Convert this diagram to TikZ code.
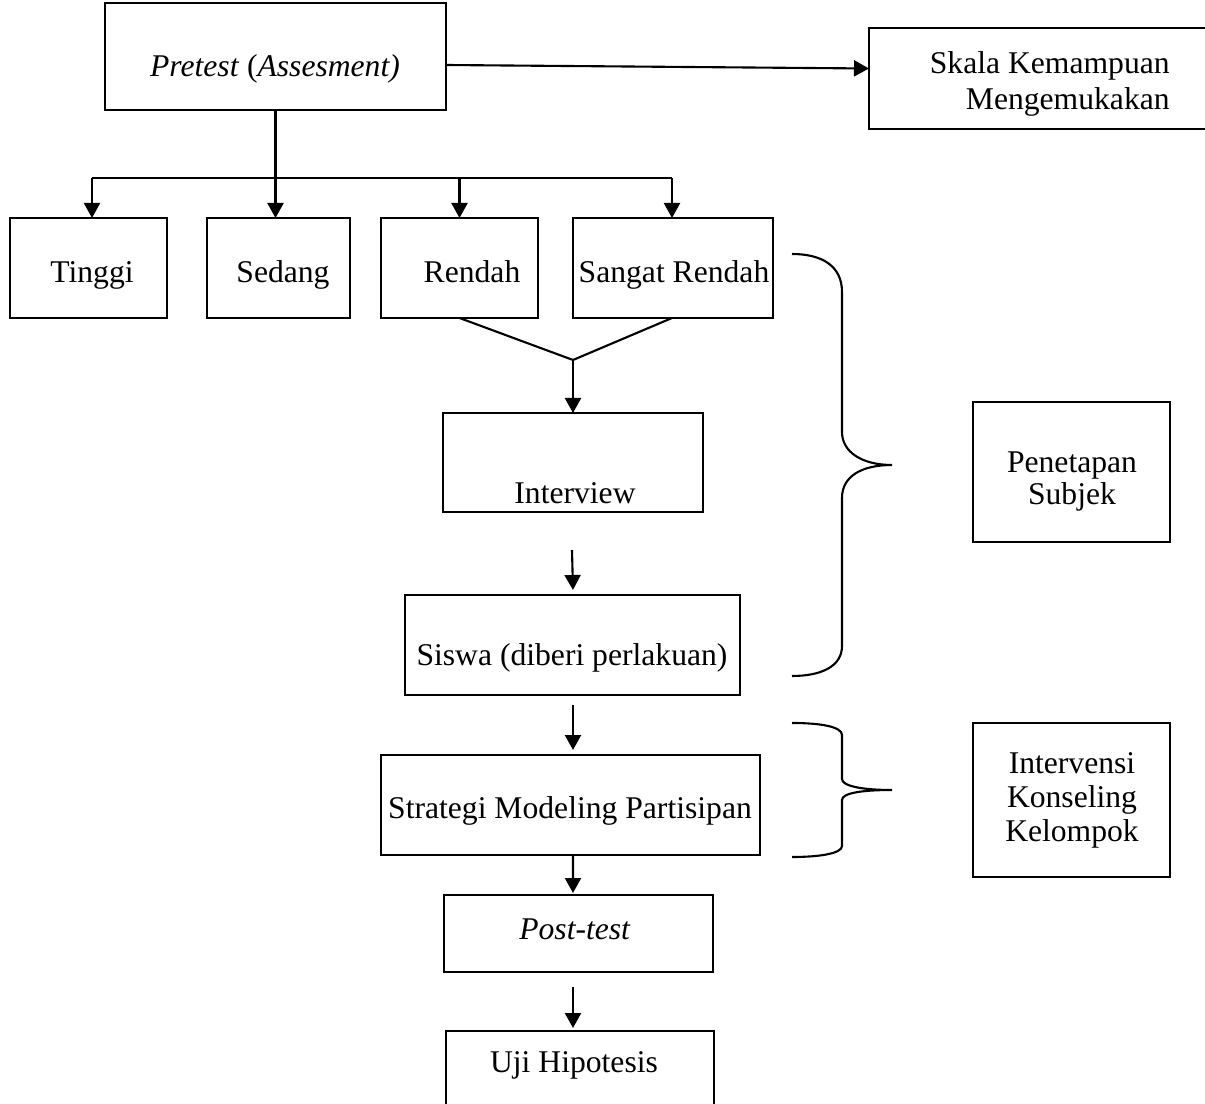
\documentclass[tikz,border=0pt]{standalone}
\usepackage{fontspec}
\setmainfont{Liberation Serif}
\usetikzlibrary{arrows.meta,fit,calc}
\begin{document}
\begin{tikzpicture}[x=0.02cm,y=-0.02cm,
  box/.style={draw, line width=1.2pt, inner sep=0pt, outer sep=0pt},
  txt/.style={font=\fontsize{18pt}{22pt}\selectfont, inner sep=0pt, anchor=base},
  conn/.style={line width=1.2pt},
  arr/.style={line width=1.2pt, -{Triangle[length=0.3cm,width=0.32cm]}},
  bracepath/.style={line width=1.2pt}]
\useasboundingbox (0,0) rectangle (1205,1104);

% boxes
\node[box, fit={(105,3) (446,110)}] (pre) {};
\node[box, fit={(869,28) (1230,129)}] (skala) {};
\node[box, fit={(10,218) (167,318)}] (tin) {};
\node[box, fit={(207,218) (350,318)}] (sed) {};
\node[box, fit={(381,218) (538,318)}] (ren) {};
\node[box, fit={(573,218) (773,318)}] (sr) {};
\node[box, fit={(443,413) (703,512)}] (int) {};
\node[box, fit={(405,595) (740,695)}] (sis) {};
\node[box, fit={(381,755) (760,855)}] (str) {};
\node[box, fit={(444,895) (713,972)}] (post) {};
\node[box, fit={(446,1031) (714,1130)}] (uji) {};
\node[box, fit={(973,402) (1170,542)}] (pen) {};
\node[box, fit={(973,723) (1170,877)}] (intv) {};

% texts
\node[txt] (tpre) at (275,77) {\textit{Pretest} (\textit{Assesment)}};
\node[txt, anchor=base east] (tskala1) at (1170,74) {Skala Kemampuan};
\node[txt, anchor=base east] (tskala2) at (1170,110) {Mengemukakan};
\node[txt] (ttin) at (92,283) {Tinggi};
\node[txt] (tsed) at (283,283) {Sedang};
\node[txt] (tren) at (472,283) {Rendah};
\node[txt] (tsr) at (674,283) {Sangat Rendah};
\node[txt] (tint) at (575,504) {Interview};
\node[txt] (tsis) at (572,666) {Siswa (diberi perlakuan)};
\node[txt] (tstr) at (570,819) {Strategi Modeling Partisipan};
\node[txt] (tpost) at (575,940) {\textit{Post-test}};
\node[txt] (tuji) at (574,1072) {Uji Hipotesis};
\node[txt] (tpen1) at (1072,473) {Penetapan};
\node[txt] (tpen2) at (1072,505) {Subjek};
\node[txt] (tintv1) at (1072,774) {Intervensi};
\node[txt] (tintv2) at (1072,808) {Konseling};
\node[txt] (tintv3) at (1072,842) {Kelompok};

% connectors
\draw[arr] ($(pre.east)+(0,8.5)$) -- ($(skala.west)+(0,-10)$);
\coordinate (bus) at (276,178);
\draw[conn] (pre.south) -- (pre.south |- bus);
\draw[conn] ($(tin.north |- bus)+(3.5,0)$) -- ($(sr.north |- bus)+(-1,0)$);
\draw[arr] ($(tin.north |- bus)+(3.5,0)$) -- ($(tin.north)+(3.5,0)$);
\draw[arr] (pre.south |- bus) -- (pre.south |- sed.north);
\draw[arr] (ren.north |- bus) -- (ren.north);
\draw[arr] ($(sr.north |- bus)+(-1,0)$) -- ($(sr.north)+(-1,0)$);

\coordinate (merge) at (573,360);
\draw[conn] (ren.south) -- (merge) -- ($(sr.south)+(-1,0)$);
\draw[arr] (merge) -- (int.north);
\draw[arr] ($(int.south)+(-1,38)$) -- ($(sis.north)+(0.5,-5)$);
\draw[arr] ($(sis.south)+(0.5,10)$) -- ($(str.north)+(2.5,-5)$);
\draw[arr] ($(str.south)+(2.5,0)$) -- ($(post.north)+(-5.5,-2)$);
\draw[arr] ($(post.south)+(-5.5,15)$) -- ($(uji.north)+(-7,-3)$);

% braces
\draw[bracepath] (792,254) .. controls (822,254) and (842,266) .. (842,292)
  -- (842,432) .. controls (842,452) and (862,465) .. (892,465)
  .. controls (862,465) and (842,476) .. (842,498)
  -- (842,646) .. controls (842,666) and (822,676) .. (792,676);
\draw[bracepath] (792,723) .. controls (822,723) and (842,727) .. (842,735)
  -- (842,779) .. controls (842,786) and (862,790) .. (892,790)
  .. controls (862,790) and (842,793) .. (842,800)
  -- (842,846) .. controls (842,853) and (822,857) .. (792,857);
\end{tikzpicture}
\end{document}
